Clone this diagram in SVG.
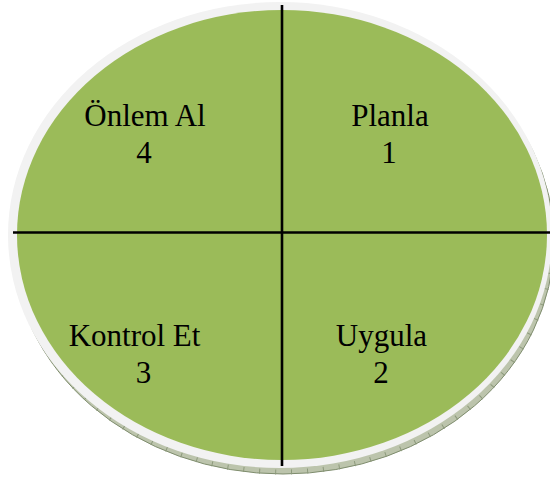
<svg xmlns="http://www.w3.org/2000/svg" width="550" height="480" viewBox="0 0 550 480">
  <style>
    .lbl { font-family: "Liberation Serif", "Times New Roman", serif; font-size: 31px; fill: #000; text-anchor: middle; }
    .axis { stroke: #000; stroke-width: 2.6; fill: none; }
  </style>
  <rect width="550" height="480" fill="#fff"/>
  <g id="disc">
    <ellipse cx="283" cy="241" rx="271" ry="233" fill="#bcc4ac" stroke="#7f8d6e" stroke-width="1"/>
    <ellipse cx="283" cy="241" rx="269" ry="231" fill="none" stroke="#8d9a7c" stroke-width="5" stroke-dasharray="1 15"/>
    <ellipse cx="280" cy="235" rx="272" ry="233" fill="#f2f2f2"/>
    <ellipse cx="282" cy="235" rx="265" ry="225" fill="#9bbb59"/>
  </g>
  <g id="connectors">
    <line class="axis" x1="282" y1="5" x2="282" y2="466"/>
    <line class="axis" x1="13" y1="232.5" x2="550" y2="232.5"/>
  </g>
  <g id="node-4">
    <text class="lbl" x="145" y="126">Önlem Al</text>
    <text class="lbl" x="144" y="163">4</text>
  </g>
  <g id="node-1">
    <text class="lbl" x="390" y="126">Planla</text>
    <text class="lbl" x="389" y="163">1</text>
  </g>
  <g id="node-3">
    <text class="lbl" x="134.5" y="346">Kontrol Et</text>
    <text class="lbl" x="143.5" y="383">3</text>
  </g>
  <g id="node-2">
    <text class="lbl" x="381.5" y="346">Uygula</text>
    <text class="lbl" x="381" y="383">2</text>
  </g>
</svg>
